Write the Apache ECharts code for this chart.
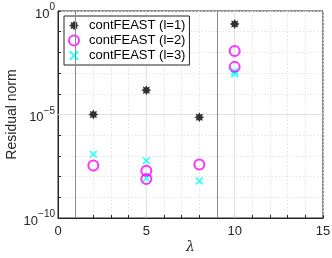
<!DOCTYPE html>
<html><head><meta charset="utf-8">
<script src="https://cdn.jsdelivr.net/npm/echarts@6/dist/echarts.min.js"></script>
<style>html,body{margin:0;padding:0;background:#fff}#c{width:332px;height:258px}</style>
</head><body><div id="c"></div>
<script>
const seriesNames = ['contFEAST (l=1)', 'contFEAST (l=2)', 'contFEAST (l=3)'];
const lambdaL1 = [2, 5, 8, 10];
const resL1 = [1e-5, 1.5e-4, 7.3e-6, 0.235];
const lambdaL2 = [2, 5, 5, 8, 10, 10];
const resL2 = [3.4e-8, 1.9e-8, 7.6e-9, 3.8e-8, 0.0117, 0.002];
const lambdaL3 = [2, 5, 5, 8, 10, 10];
const resL3 = [1.2e-7, 5.9e-8, 8.3e-9, 6.1e-9, 1.2e-3, 9e-4];
const xTicks = [0, 5, 10, 15];
const contourLimits = [1, 9];

const starPath = (function(){
  let p = [];
  for (let i = 0; i < 16; i++) {
    const a = Math.PI * i / 8 - Math.PI/2;
    const r = i % 2 === 0 ? 10 : 6;
    p.push((10 + r*Math.cos(a)).toFixed(2) + ' ' + (10 + r*Math.sin(a)).toFixed(2));
  }
  return 'path://M' + p.join(' L') + ' Z';
})();
const crossPath = 'path://M0 1.5 L1.5 0 L5 3.5 L8.5 0 L10 1.5 L6.5 5 L10 8.5 L8.5 10 L5 6.5 L1.5 10 L0 8.5 L3.5 5 Z';

const zip = (xs, ys) => xs.map((x, i) => [x, ys[i]]);
const font = 'Liberation Sans, Arial, sans-serif';
const chart = echarts.init(document.getElementById('c'));
chart.setOption({
  animation: false,
  textStyle: { fontFamily: font },
  grid: { left: 58, right: 9, top: 11, bottom: 40, show: true, borderColor: '#262626', borderWidth: 1,
    containLabel: false, outerBoundsMode: 'none' },
  legend: {
    orient: 'vertical', left: 64, top: 16,
    backgroundColor: '#fff', borderColor: '#262626', borderWidth: 1,
    padding: [3, 4, 3, 4], itemGap: 2, itemWidth: 20, itemHeight: 10,
    textStyle: { fontSize: 13, color: '#000', fontFamily: font },
    data: seriesNames
  },
  xAxis: {
    type: 'value', min: 0, max: 15, interval: 1,
    axisLine: { lineStyle: { color: '#262626' } },
    axisTick: { inside: true, length: 3, lineStyle: { color: '#262626' },
      interval: (i, v) => xTicks.indexOf(v) >= 0 },
    axisLabel: { fontSize: 13, color: '#262626', margin: 7,
      formatter: v => xTicks.indexOf(v) >= 0 ? String(v) : '' },
    splitLine: { show: true, lineStyle: { color: '#e3e3e3', type: [1.5, 2], width: 1 } },
    name: 'λ', nameLocation: 'middle', nameGap: 22, nameMoveOverlap: false,
    nameTextStyle: { fontSize: 14, fontStyle: 'italic', color: '#262626', fontFamily: 'DejaVu Serif, serif' }
  },
  yAxis: {
    type: 'log', logBase: 10, min: 1e-10, max: 1, interval: 1,
    axisLine: { lineStyle: { color: '#262626' } },
    axisTick: { show: true, inside: true, length: 3, lineStyle: { color: '#262626' } },
    axisLabel: {
      color: '#262626', margin: 3,
      formatter: v => {
        const e = Math.round(Math.log10(v));
        if (e % 5 !== 0) return '';
        return '{b|10}{s|' + (e === 0 ? '0' : '−' + (-e)) + '}';
      },
      rich: {
        b: { fontSize: 13, color: '#262626', fontFamily: font, lineHeight: 19, verticalAlign: 'bottom' },
        s: { fontSize: 10, color: '#262626', fontFamily: font, lineHeight: 19, verticalAlign: 'top', padding: [1, 0, 0, 0] }
      }
    },
    splitLine: { show: true, lineStyle: { color: '#e3e3e3', type: [1.5, 2], width: 1 } },
    name: 'Residual norm', nameLocation: 'middle', nameGap: 39, nameMoveOverlap: false,
    nameTextStyle: { fontSize: 14, color: '#262626', fontFamily: font }
  },
  series: [
    { name: seriesNames[0], type: 'scatter', data: zip(lambdaL1, resL1), symbol: starPath, symbolSize: 10,
      itemStyle: { color: '#000' }, z: 5,
      markLine: { silent: true, symbol: 'none', label: { show: false },
        lineStyle: { color: '#8a8a8a', type: 'solid', width: 1 },
        data: contourLimits.map(v => ({ xAxis: v })) } },
    { name: seriesNames[1], type: 'scatter', data: zip(lambdaL2, resL2), symbol: 'circle', symbolSize: 10,
      itemStyle: { color: 'rgba(0,0,0,0)', borderColor: '#ff00ff', borderWidth: 2 }, z: 4 },
    { name: seriesNames[2], type: 'scatter', data: zip(lambdaL3, resL3), symbol: crossPath, symbolSize: 8,
      itemStyle: { color: '#00ffff' }, z: 3 },
    { type: 'line', data: [[5, 1e-10], [5, 1]], symbol: 'none', silent: true,
      lineStyle: { color: '#e0e0e0', width: 1 }, z: 1 },
    { type: 'line', data: [[10, 1e-10], [10, 1]], symbol: 'none', silent: true,
      lineStyle: { color: '#e0e0e0', width: 1 }, z: 1 },
    { type: 'line', data: [[0, 1e-5], [15, 1e-5]], symbol: 'none', silent: true,
      lineStyle: { color: '#e0e0e0', width: 1 }, z: 1 }
  ]
});
</script></body></html>
